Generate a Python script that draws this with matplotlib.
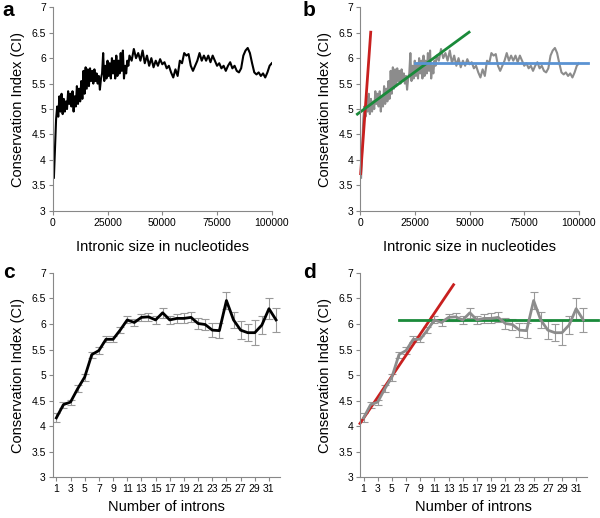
import matplotlib.pyplot as plt
import numpy as np

plt.rcParams['font.family'] = ['Liberation Sans', 'DejaVu Sans']

# intronic size (nt) and conservation index, panels a/b
size_nt = list(range(500, 35001, 500)) + list(range(36000, 100001, 1000))
ci_size = [3.65, 4.25, 4.8, 5.05, 4.85, 5.25, 4.95, 5.3, 4.9, 5.2,
           4.95, 5.15, 5.0, 5.35, 5.1, 5.3, 5.05, 5.35, 4.95, 5.25,
           5.05, 5.45, 5.1, 5.4, 5.15, 5.55, 5.2, 5.75, 5.3, 5.82,
           5.4, 5.78, 5.45, 5.8, 5.55, 5.75, 5.5, 5.78, 5.55, 5.7,
           5.5, 5.65, 5.38, 5.6, 5.7, 6.1, 5.55, 5.85, 5.6, 5.95,
           5.65, 5.9, 5.6, 6.0, 5.7, 5.95, 5.6, 6.05, 5.65, 5.95,
           5.7, 6.1, 5.75, 6.15, 5.6, 5.85, 5.7, 5.95, 5.85, 6.05,
           5.95, 6.18, 6.0, 6.1, 5.95, 6.15, 5.9, 6.05, 5.85, 6.0,
           5.82, 5.95, 5.85, 5.98, 5.88, 5.92, 5.8, 5.85, 5.72, 5.62,
           5.78, 5.65, 5.95, 5.9, 6.1, 6.05, 6.08, 5.85, 5.75, 5.85,
           5.95, 6.1, 5.95, 6.05, 5.95, 6.05, 5.92, 6.05, 5.95, 5.85,
           5.9, 5.8, 5.85, 5.75, 5.85, 5.92, 5.8, 5.85, 5.75, 5.72,
           5.8, 6.05, 6.15, 6.2, 6.1, 5.9, 5.72, 5.68, 5.72, 5.65,
           5.7, 5.62, 5.72, 5.85, 5.9]

# number of introns, panels c/d
n_introns = list(range(1, 33))
ci_introns = [4.16, 4.42, 4.47, 4.73, 4.96, 5.40, 5.48, 5.70, 5.70, 5.88,
              6.08, 6.03, 6.13, 6.14, 6.08, 6.22, 6.08, 6.11, 6.11, 6.13,
              6.01, 5.99, 5.88, 5.87, 6.46, 6.08, 5.88, 5.83, 5.83, 5.98,
              6.30, 6.08]
ci_err = [0.09, 0.06, 0.05, 0.07, 0.07, 0.06, 0.06, 0.06, 0.06, 0.06,
          0.07, 0.06, 0.07, 0.08, 0.08, 0.10, 0.08, 0.09, 0.10, 0.10,
          0.10, 0.10, 0.14, 0.15, 0.17, 0.15, 0.17, 0.17, 0.24, 0.17,
          0.20, 0.23]

# fitted trend lines (endpoints)
b_red_x, b_red_y = [300, 4900], [3.73, 6.51]
b_green_x, b_green_y = [-1200, 49800], [4.9, 6.51]
b_blue_x, b_blue_y = [25000, 104000], [5.91, 5.91]
d_red_x, d_red_y = [0.5, 13.7], [4.05, 6.77]
d_green_x, d_green_y = [6.0, 34.1], [6.08, 6.08]

fig = plt.figure(figsize=(6, 5.18), dpi=100)
pos = {'a': [0.088, 0.593, 0.365, 0.393],
       'b': [0.600, 0.593, 0.365, 0.393],
       'c': [0.088, 0.079, 0.378, 0.394],
       'd': [0.600, 0.079, 0.378, 0.394]}
letter_xy = {'a': (2, 10), 'b': (303, 10), 'c': (3, 272), 'd': (303, 272)}
axes = {k: fig.add_axes(v) for k, v in pos.items()}


def style(ax, letter, xlabel, xpad):
    for s in ['top', 'right']:
        ax.spines[s].set_visible(False)
    for s in ['left', 'bottom']:
        ax.spines[s].set_color('#888888')
        ax.spines[s].set_linewidth(0.8)
    ax.set_ylim(3, 7)
    ax.set_yticks([3, 3.5, 4, 4.5, 5, 5.5, 6, 6.5, 7])
    ax.set_yticklabels(['3', '3.5', '4', '4.5', '5', '5.5', '6', '6.5', '7'])
    ax.tick_params(axis='both', labelsize=7.5, length=3, color='#888888', pad=2)
    ax.set_ylabel('Conservation Index (CI)', fontsize=10.5, labelpad=5)
    ax.set_xlabel(xlabel, fontsize=10.5, labelpad=xpad)
    lx, ly = letter_xy[letter]
    fig.text(lx / 600, 1 - ly / 518, letter, fontsize=15,
             fontweight='bold', va='center', ha='left')


for k in ['a', 'b']:
    ax = axes[k]
    col = 'black' if k == 'a' else '#8c8c8c'
    ax.plot(size_nt, ci_size, color=col, lw=1.5)
    ax.set_xlim(0, 100000)
    ax.set_xticks([0, 25000, 50000, 75000, 100000])
    ax.set_xticklabels(['0', '25000', '50000', '75000', '100000'])
    style(ax, k, 'Intronic size in nucleotides', 9)

axes['b'].plot(b_red_x, b_red_y, color='#c8201f', lw=2, clip_on=False)
axes['b'].plot(b_green_x, b_green_y, color='#1a8a3a', lw=2, clip_on=False)
axes['b'].plot(b_blue_x, b_blue_y, color='#5b93d3', lw=2, clip_on=False)

for k in ['c', 'd']:
    ax = axes[k]
    col = 'black' if k == 'c' else '#8c8c8c'
    ax.errorbar(n_introns, ci_introns, yerr=ci_err, color=col, lw=2,
                ecolor='#999999', elinewidth=0.8, capsize=3, capthick=0.8)
    ax.set_xlim(0.5, 32.5)
    ax.set_xticks(n_introns[::2])
    ax.set_xticklabels([str(n) for n in n_introns[::2]])
    style(ax, k, 'Number of introns', 4)

axes['d'].plot(d_red_x, d_red_y, color='#c8201f', lw=2, clip_on=False)
axes['d'].plot(d_green_x, d_green_y, color='#1a8a3a', lw=2, clip_on=False)

fig.savefig('out.png', dpi=100)
